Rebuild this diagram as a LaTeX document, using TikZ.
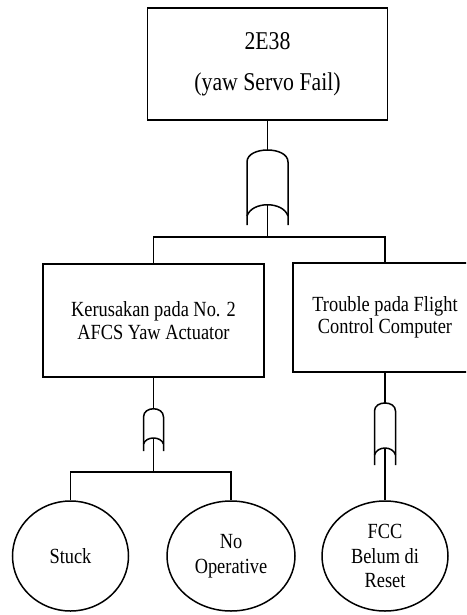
\documentclass[tikz,border=0pt]{standalone}
\usepackage{fontspec}
\setmainfont[FakeStretch=0.85]{Liberation Serif}
\usetikzlibrary{shapes.geometric}
\begin{document}
\begin{tikzpicture}[x=1pt,y=-1pt,
  line/.style={line width=1.5pt},
  gate/.style={line width=1.5pt},
  boxnode/.style={draw,line width=1.5pt,rectangle,inner sep=0pt,align=center,font=\fontsize{21.6}{22.5}\selectfont},
  topbox/.style={boxnode,font=\fontsize{25.6}{41}\selectfont},
  evt/.style={draw,line width=1.5pt,ellipse,inner sep=0pt,align=center,font=\fontsize{21.6}{24.5}\selectfont}]
\useasboundingbox (0,0) rectangle (466,615);
\clip (0,0) rectangle (466,615);
% top event
\node[topbox,minimum width=240pt,minimum height=112pt] (top) at (267.5,64) {2E38\\(yaw Servo Fail)};
% top OR gate
\draw[gate] (247,225) -- (247,162) .. controls (247,146) and (288,146) .. (288,162) -- (288,225);
\draw[gate] (247,216) .. controls (252,201) and (283,201) .. (288,216);
\coordinate (g1top) at (267.5,150);
\coordinate (g1in) at (267.5,205);
\coordinate (b1) at (267.5,237);
\draw[line] (top.south) -- (g1top);
\draw[line] (g1in) -- (b1);
% intermediate events
\node[boxnode,minimum width=221pt,minimum height=113pt] (k) at (153.5,320.5) {Kerusakan pada No. 2\\AFCS Yaw Actuator};
\node[boxnode,minimum width=184pt,minimum height=109pt] (t) at (385,317.5) {Trouble pada Flight\\Control Computer};
\draw[line] (k.north) |- (b1) -| (t.north);
% left OR gate
\draw[gate] (143.5,451) -- (143.5,417) .. controls (143.5,406) and (163.5,406) .. (163.5,417) -- (163.5,451);
\draw[gate] (143.5,444) .. controls (146,436) and (161,436) .. (163.5,444);
\coordinate (g2top) at (153.5,409);
\coordinate (g2in) at (153.5,438);
\coordinate (b2) at (153.5,472);
\draw[line] (k.south) -- (g2top);
\draw[line] (g2in) -- (b2);
% basic events
\node[evt,minimum width=116pt,minimum height=110pt] (s) at (70.5,556) {Stuck};
\node[evt,minimum width=128pt,minimum height=110pt] (n) at (231,556) {No\\Operative};
\draw[line] (s.north) |- (b2) -| (n.north);
% right OR gate
\draw[gate] (374.5,465) -- (374.5,411) .. controls (374.5,400.3) and (395.5,400.3) .. (395.5,411) -- (395.5,465);
\draw[gate] (374.5,455) .. controls (377,445.7) and (393,445.7) .. (395.5,455);
\coordinate (g3top) at (385,403);
\coordinate (g3in) at (385,448);
\draw[line] (t.south) -- (g3top);
\node[evt,minimum width=126pt,minimum height=110pt] (f) at (385,556) {FCC\\Belum di\\Reset};
\draw[line] (g3in) -- (f.north);
\end{tikzpicture}
\end{document}
